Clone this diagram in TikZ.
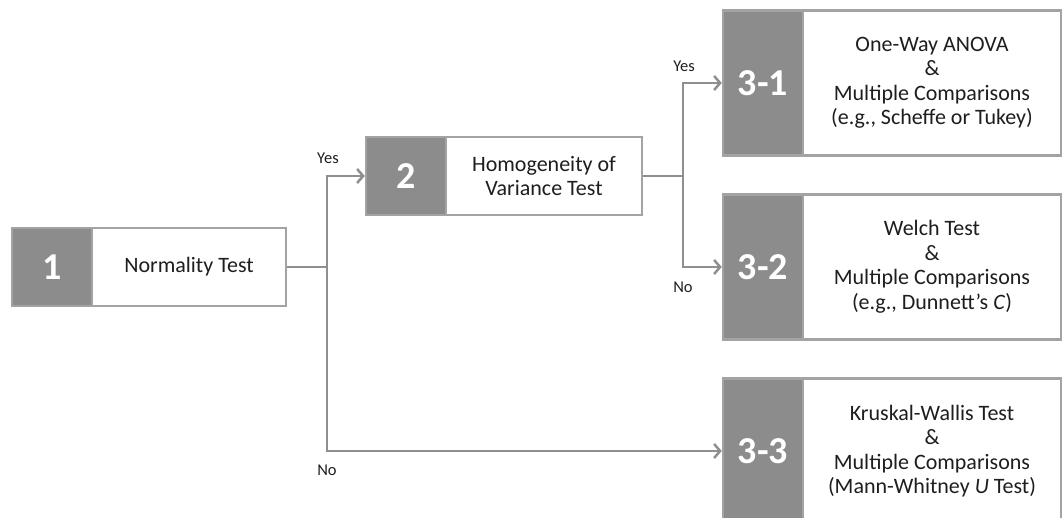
\documentclass[tikz,border=0pt]{standalone}
\usepackage{fontspec}
\setmainfont{Carlito}
\usetikzlibrary{arrows.meta}
\definecolor{numgray}{HTML}{8C8C8C}
\definecolor{edgegray}{HTML}{A3A3A3}
\definecolor{linegray}{HTML}{8F8F8F}
\definecolor{ink}{HTML}{1E1E1E}
\begin{document}
\begin{tikzpicture}[x=1pt,y=-1pt,
  numbox/.style={rectangle, fill=numgray, draw=edgegray, line width=2.5pt,
    inner sep=0pt, text=white, font=\fontsize{38}{40}\selectfont\bfseries},
  txtbox/.style={rectangle, fill=white, draw=edgegray, line width=2.5pt,
    inner sep=0pt, text=ink, align=center, font=\fontsize{22}{24.5}\selectfont},
  flow/.style={draw=linegray, line width=2.5pt},
  arr/.style={flow, -{Straight Barb[length=6pt,width=14pt]}},
  lbl/.style={text=ink, font=\fontsize{16.5}{18}\selectfont, inner sep=0pt}
]
\useasboundingbox (0,0) rectangle (1062,518);
\clip (0,0) rectangle (1062,518);

% text parts of the boxes
\node[txtbox, minimum width=194pt, minimum height=78pt] (t1) at (189,267) {Normality Test};
\node[txtbox, minimum width=196pt, minimum height=78pt] (t2) at (544,176) {Homogeneity of\\Variance Test};
\node[txtbox, minimum width=258pt, minimum height=145pt] (t31) at (932,83)
  {One-Way ANOVA\\\&\\Multiple Comparisons\\(e.g., Scheffe or Tukey)};
\node[txtbox, minimum width=258pt, minimum height=145pt] (t32) at (932,267)
  {Welch Test\\\&\\Multiple Comparisons\\(e.g., Dunnett’s \textit{C})};
\node[txtbox, minimum width=258pt, minimum height=145pt] (t33) at (932,451)
  {Kruskal-Wallis Test\\\&\\Multiple Comparisons\\(Mann-Whitney \textit{U} Test)};

% numbered parts of the boxes
\node[numbox, minimum width=80pt, minimum height=78pt] (n1) at (52,267) {1};
\node[numbox, minimum width=80pt, minimum height=78pt] (n2) at (406,176) {2};
\node[numbox, minimum width=80pt, minimum height=145pt] (n31) at (763,83) {3-1};
\node[numbox, minimum width=80pt, minimum height=145pt] (n32) at (763,267) {3-2};
\node[numbox, minimum width=80pt, minimum height=145pt] (n33) at (763,451) {3-3};

% branching connectors
\coordinate (j1) at (327,267);
\coordinate (j2) at (683,176);
\draw[flow] (t1.east) -- (j1);
\draw[arr] (j1) |- (n2.west);
\draw[arr] (j1) |- (n33.west);
\draw[flow] (t2.east) -- (j2);
\draw[arr] (j2) |- (n31.west);
\draw[arr] (j2) |- (n32.west);

% branch labels
\node[lbl] (y1) at (328,158) {Yes};
\node[lbl] (no1) at (327,470) {No};
\node[lbl] (y2) at (684,66) {Yes};
\node[lbl] (no2) at (683,287) {No};
\end{tikzpicture}
\end{document}
